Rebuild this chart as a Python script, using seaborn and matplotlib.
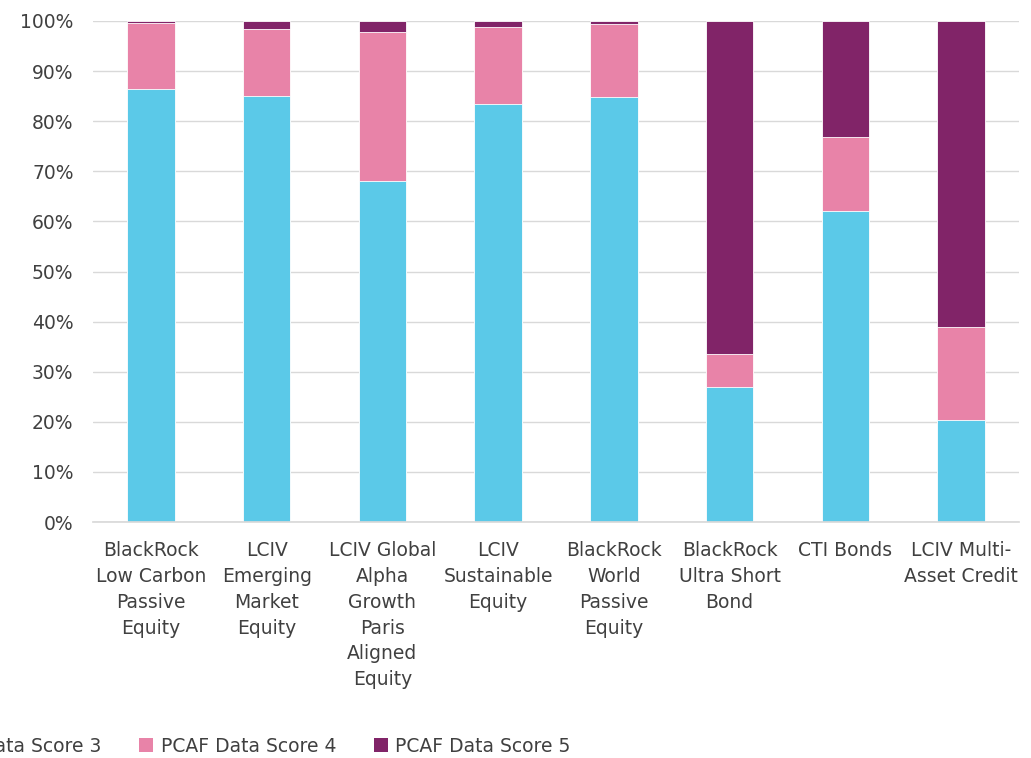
import matplotlib
matplotlib.use("Agg")
import matplotlib.pyplot as plt
import seaborn as sns
import pandas as pd
import numpy as np
from matplotlib.patches import Patch

funds = [
    "BlackRock\nLow Carbon\nPassive\nEquity",
    "LCIV\nEmerging\nMarket\nEquity",
    "LCIV Global\nAlpha\nGrowth\nParis\nAligned\nEquity",
    "LCIV\nSustainable\nEquity",
    "BlackRock\nWorld\nPassive\nEquity",
    "BlackRock\nUltra Short\nBond",
    "CTI Bonds",
    "LCIV Multi-\nAsset Credit",
]
score3 = [86.4, 85.0, 68.1, 83.4, 84.8, 26.9, 62.1, 20.3]
score4 = [13.3, 13.4, 29.7, 15.5, 14.6, 6.6, 14.7, 18.6]
score5 = [0.3, 1.6, 2.2, 1.1, 0.6, 66.5, 23.2, 61.1]
series_names = ["PCAF Data Score 3", "PCAF Data Score 4", "PCAF Data Score 5"]
colors = ["#5BC9E8", "#E883A8", "#812468"]

sns.set_theme(style="white")
plt.rcParams["font.family"] = ["DejaVu Sans"]
text_color = "#404040"

df = pd.DataFrame({"fund": funds, "s3": score3, "s4": score4, "s5": score5})
df["top3"] = df["s3"]
df["top4"] = df["s3"] + df["s4"]
df["top5"] = df["s3"] + df["s4"] + df["s5"]

fig = plt.figure(figsize=(10.31, 7.58), dpi=100)
ax = fig.add_axes([93 / 1031, 1 - 522 / 758, (1019 - 93) / 1031, (522 - 21) / 758])

# stacked bars drawn as overlapping cumulative totals
for col, color in zip(["top5", "top4", "top3"], colors[::-1]):
    sns.barplot(data=df, x="fund", y=col, color=color, width=0.41,
                saturation=1, ax=ax, edgecolor="white", linewidth=0.6)

ax.set_ylim(0, 100)
ax.set_yticks(np.arange(0, 101, 10))
ax.set_yticklabels([f"{v}%" for v in range(0, 101, 10)])
ax.set_xlabel("")
ax.set_ylabel("")
ax.set_axisbelow(True)
ax.yaxis.grid(True, color="#D9D9D9", linewidth=1)
for s in ["left", "right", "top"]:
    ax.spines[s].set_visible(False)
ax.spines["bottom"].set_color("#D9D9D9")
ax.tick_params(axis="both", length=0, labelsize=13.5, colors=text_color)
ax.tick_params(axis="y", pad=14)
ax.tick_params(axis="x", pad=14)
for lbl in ax.get_xticklabels():
    lbl.set_linespacing(1.45)
    lbl.set_va("top")

handles = [Patch(facecolor=c, edgecolor="none") for c in colors]
fig.legend(handles, series_names, loc="center left", ncol=3, frameon=False,
           bbox_to_anchor=(-112 / 1031, 1 - 746 / 758), fontsize=13.5,
           handlelength=0.75, handleheight=0.75, handletextpad=0.4,
           columnspacing=2.0, labelcolor=text_color)

fig.savefig("out.png", dpi=100)
